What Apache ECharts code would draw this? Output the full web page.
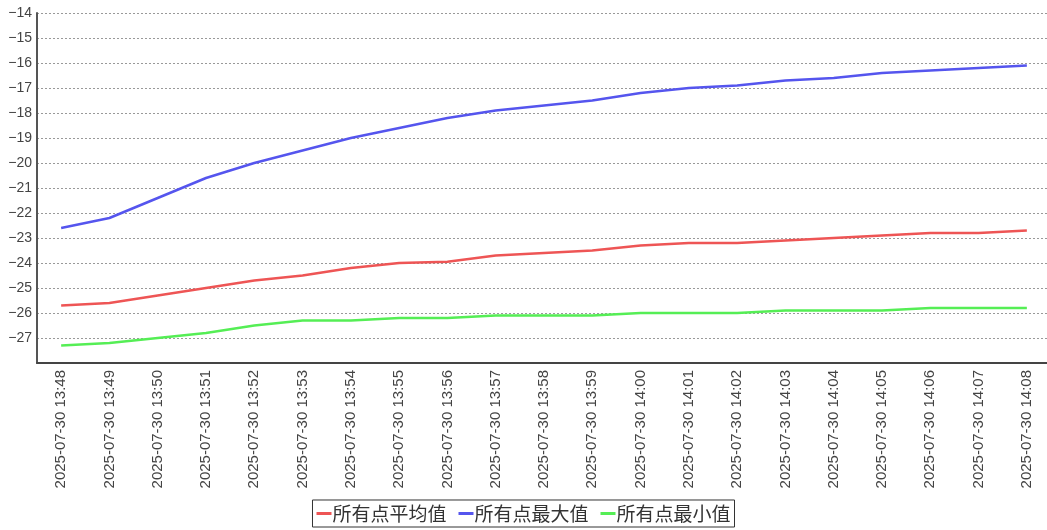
<!DOCTYPE html>
<html>
<head>
<meta charset="utf-8">
<script src="https://cdn.jsdelivr.net/npm/echarts@6/dist/echarts.min.js"></script>
<style>
  html, body { margin: 0; padding: 0; background: #fff; }
  #chart { width: 1047px; height: 530px; }
</style>
</head>
<body>
<div id="chart"></div>
<script>
// 横轴时间
const times = [
  '2025-07-30 13:48', '2025-07-30 13:49', '2025-07-30 13:50', '2025-07-30 13:51',
  '2025-07-30 13:52', '2025-07-30 13:53', '2025-07-30 13:54', '2025-07-30 13:55',
  '2025-07-30 13:56', '2025-07-30 13:57', '2025-07-30 13:58', '2025-07-30 13:59',
  '2025-07-30 14:00', '2025-07-30 14:01', '2025-07-30 14:02', '2025-07-30 14:03',
  '2025-07-30 14:04', '2025-07-30 14:05', '2025-07-30 14:06', '2025-07-30 14:07',
  '2025-07-30 14:08'
]

// 三条曲线的数据
const avgValues = [
  -25.7, -25.6, -25.3, -25.0, -24.7, -24.5, -24.2, -24.0, -23.95, -23.7, -23.6,
  -23.5, -23.3, -23.2, -23.2, -23.1, -23.0, -22.9, -22.8, -22.8, -22.7
]
const maxValues = [
  -22.6, -22.2, -21.4, -20.6, -20.0, -19.5, -19.0, -18.6, -18.2, -17.9, -17.7,
  -17.5, -17.2, -17.0, -16.9, -16.7, -16.6, -16.4, -16.3, -16.2, -16.1
]
const minValues = [
  -27.3, -27.2, -27.0, -26.8, -26.5, -26.3, -26.3, -26.2, -26.2, -26.1, -26.1,
  -26.1, -26.0, -26.0, -26.0, -25.9, -25.9, -25.9, -25.8, -25.8, -25.8
]

const seriesNames = ['所有点平均值', '所有点最大值', '所有点最小值']
const colors = ['#ee5555', '#5555ee', '#55ee55']

const chart = echarts.init(document.getElementById('chart'))

const makeLine = (name, data, color) => ({
  name,
  type: 'line',
  data,
  showSymbol: false,
  symbol: 'none',
  lineStyle: { width: 2.5, color },
  itemStyle: { color }
})

chart.setOption({
  animation: false,
  color: colors,
  grid: { left: 37, top: 13, width: 1014, height: 350, outerBoundsMode: 'none' },
  legend: {
    bottom: 3,
    left: 'center',
    icon: 'rect',
    itemWidth: 15,
    itemHeight: 3,
    itemGap: 12,
    padding: [4, 4],
    borderColor: '#333',
    borderWidth: 1,
    textStyle: { fontFamily: 'Noto Sans CJK SC', fontSize: 19, color: '#333', padding: [0, 0, 0, -4] },
    data: seriesNames
  },
  xAxis: {
    type: 'category',
    data: times,
    boundaryGap: true,
    axisLine: { lineStyle: { color: '#444', width: 2 } },
    axisTick: { alignWithLabel: true, length: 5, lineStyle: { color: '#666' } },
    axisLabel: {
      rotate: 90,
      interval: 0,
      margin: 7,
      fontFamily: 'Liberation Sans',
      fontSize: 15,
      color: '#444'
    },
    splitLine: { show: false }
  },
  yAxis: {
    type: 'value',
    min: -28,
    max: -14,
    interval: 1,
    axisLine: { show: true, lineStyle: { color: '#555', width: 2 } },
    axisTick: { show: false },
    axisLabel: {
      showMinLabel: false,
      margin: 5,
      fontFamily: 'Liberation Sans',
      fontSize: 14,
      color: '#444',
      formatter: (v) => String(v).replace('-', '\u2212')
    },
    splitLine: { lineStyle: { color: '#999', type: [2, 2], width: 1 } }
  },
  series: [
    makeLine(seriesNames[0], avgValues, colors[0]),
    makeLine(seriesNames[1], maxValues, colors[1]),
    makeLine(seriesNames[2], minValues, colors[2])
  ]
})
</script>
</body>
</html>
